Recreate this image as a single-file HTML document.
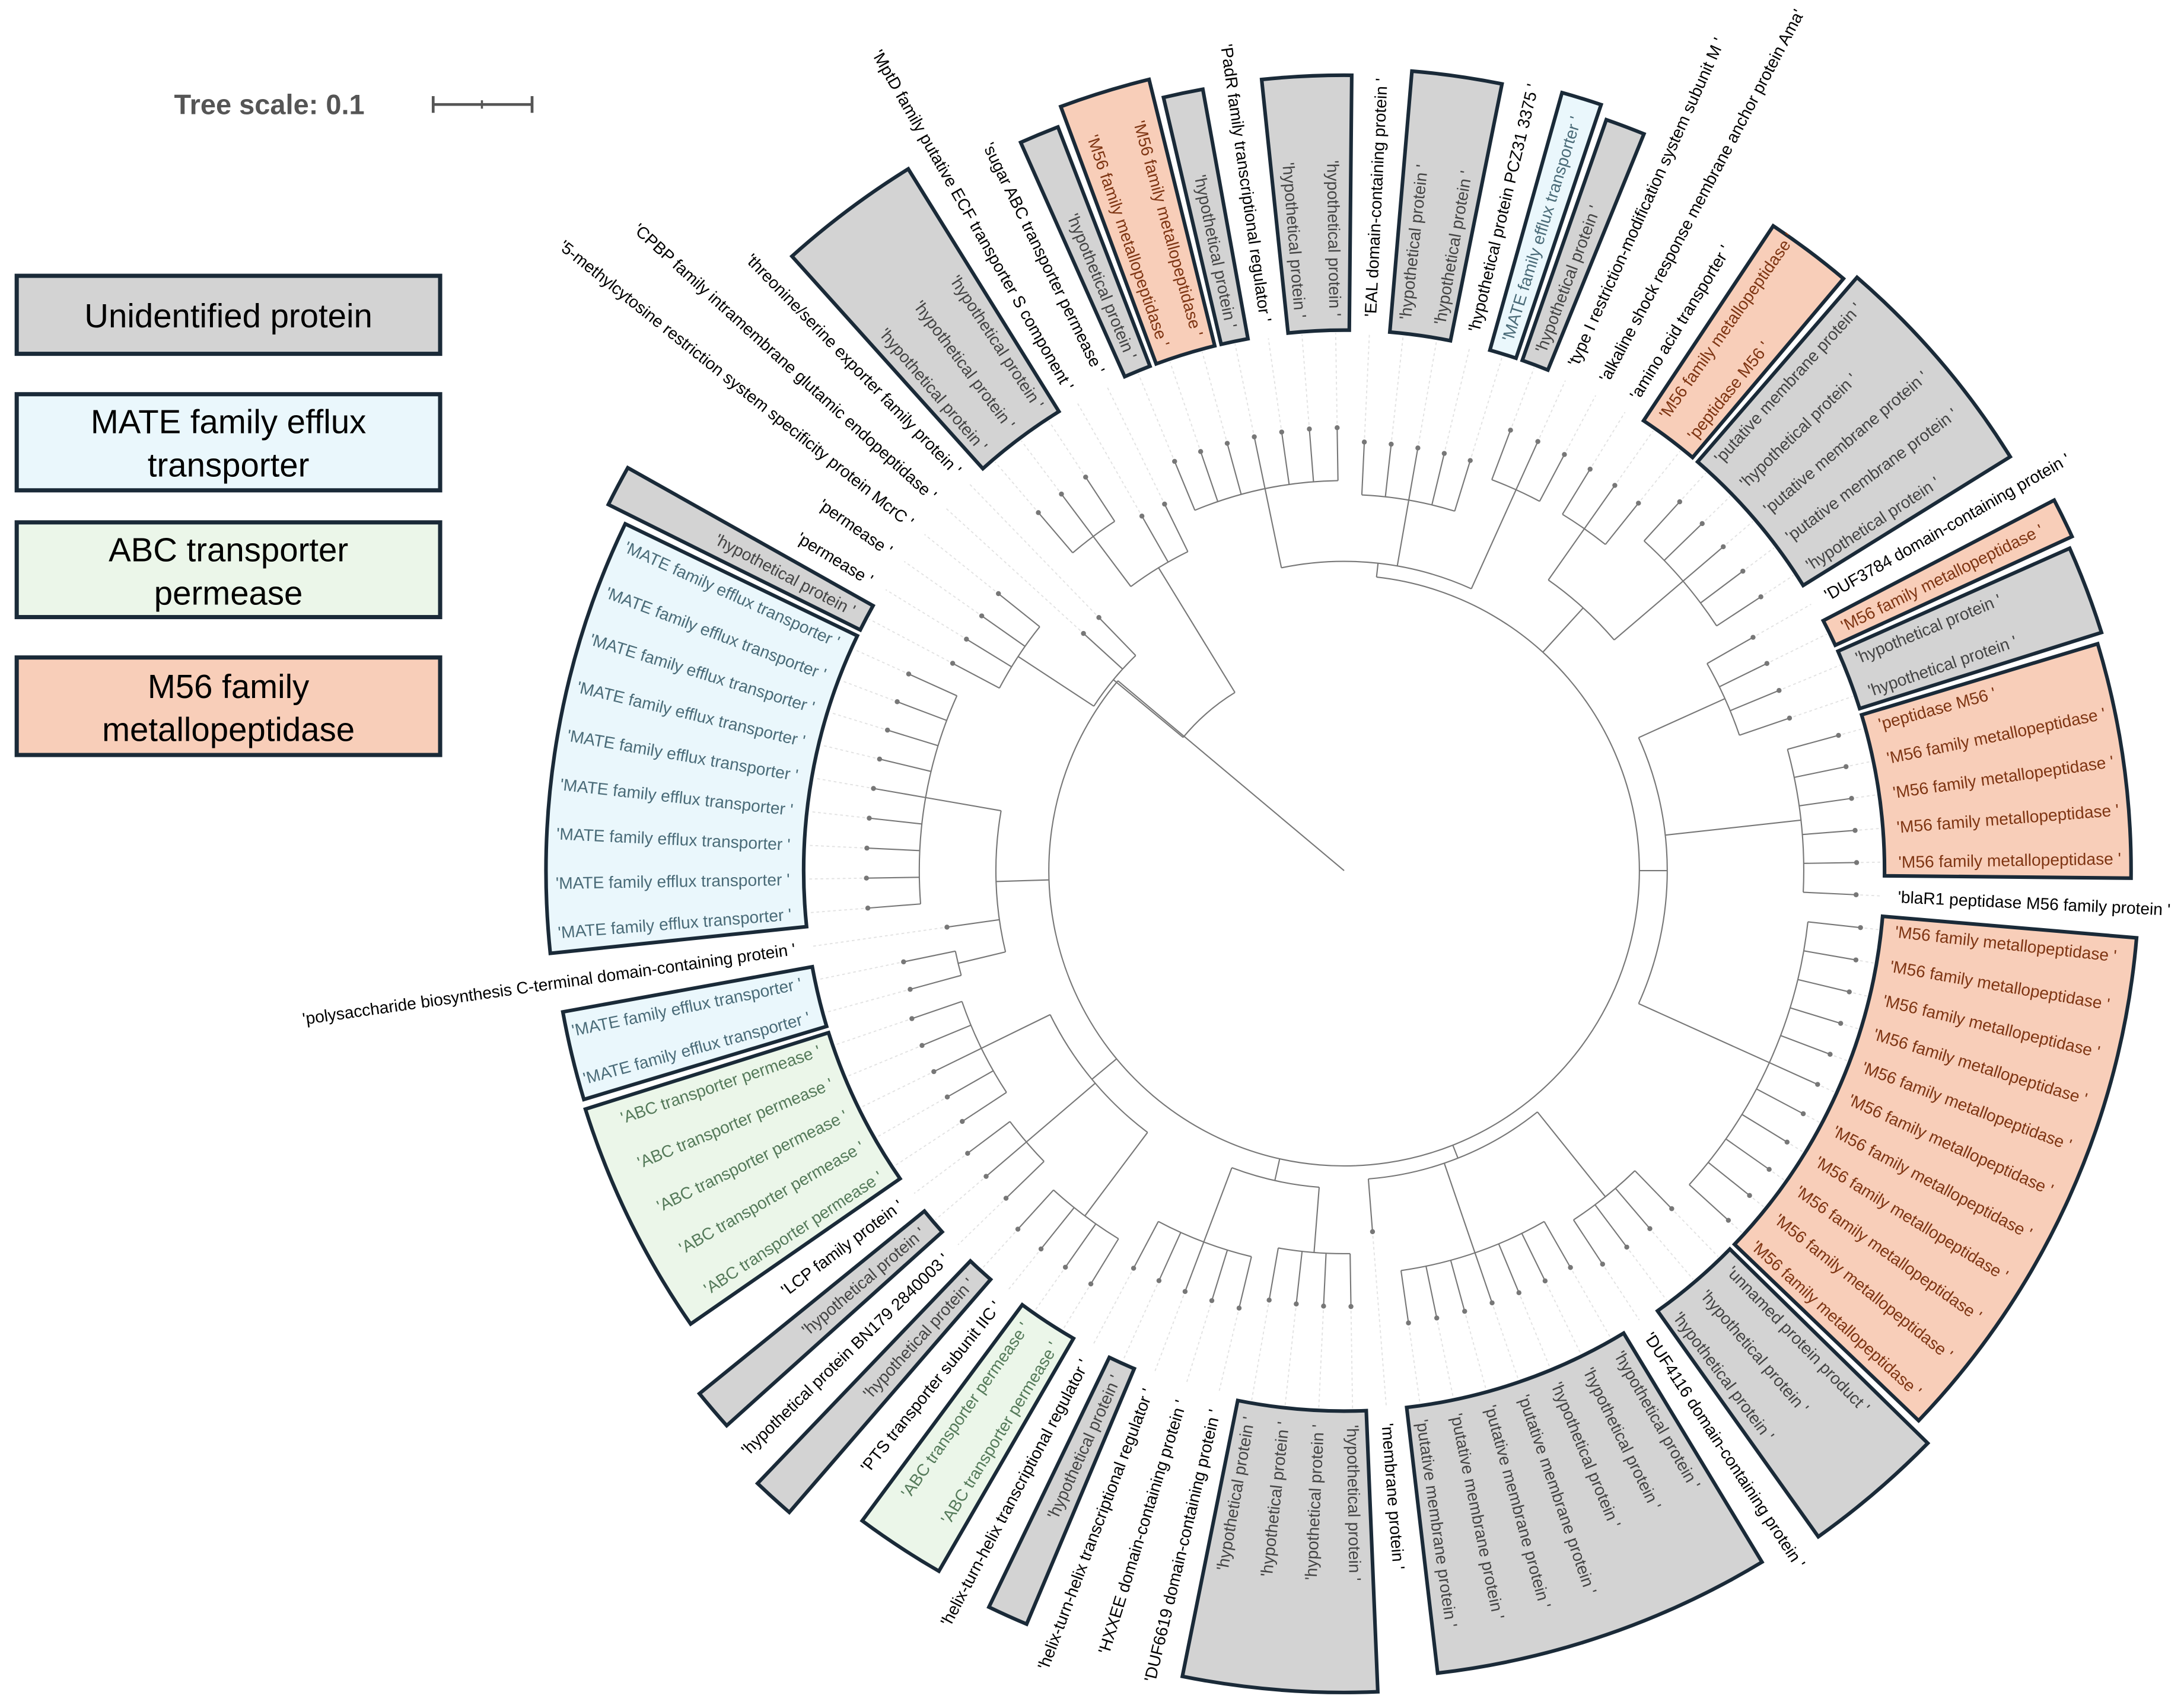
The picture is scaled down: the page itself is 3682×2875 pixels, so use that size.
<!DOCTYPE html>
<html><head><meta charset="utf-8">
<style>
html,body{margin:0;padding:0;background:#fff;}
svg{display:block;}
text{font-family:"Liberation Sans",sans-serif;}
</style></head>
<body>
<svg id="chart" xmlns="http://www.w3.org/2000/svg" width="3682" height="2875" viewBox="0 0 1568 1224" preserveAspectRatio="none">
  <rect x="0" y="0" width="1568" height="1224" fill="#fff"/>
  <g>
    <text x="125" y="82" font-size="20" font-weight="bold" fill="#555">Tree scale: 0.1</text>
    <line x1="311" y1="75" x2="382" y2="75" stroke="#555" stroke-width="2"/>
    <line x1="311" y1="69" x2="311" y2="81" stroke="#555" stroke-width="2"/>
    <line x1="382" y1="69" x2="382" y2="81" stroke="#555" stroke-width="2"/>
    <line x1="346" y1="72" x2="346" y2="78" stroke="#555" stroke-width="1.5"/>
  </g>
  <g>
    <g>
      <rect x="12" y="198" width="304" height="56" fill="#d3d3d3" stroke="#1a2a38" stroke-width="3"/>
      <text x="164" y="235" font-size="24" text-anchor="middle" fill="#000">Unidentified protein</text>
    </g>
    <g>
      <rect x="12" y="283" width="304" height="69" fill="#eaf7fc" stroke="#1a2a38" stroke-width="3"/>
      <text x="164" y="311" font-size="24" text-anchor="middle" fill="#000">MATE family efflux</text>
      <text x="164" y="342" font-size="24" text-anchor="middle" fill="#000">transporter</text>
    </g>
    <g>
      <rect x="12" y="375" width="304" height="68" fill="#ebf6e9" stroke="#1a2a38" stroke-width="3"/>
      <text x="164" y="403" font-size="24" text-anchor="middle" fill="#000">ABC transporter</text>
      <text x="164" y="434" font-size="24" text-anchor="middle" fill="#000">permease</text>
    </g>
    <g>
      <rect x="12" y="472" width="304" height="70" fill="#f8ceb9" stroke="#1a2a38" stroke-width="3"/>
      <text x="164" y="501" font-size="24" text-anchor="middle" fill="#000">M56 family</text>
      <text x="164" y="532" font-size="24" text-anchor="middle" fill="#000">metallopeptidase</text>
    </g>
  </g>
  <g id="boxes"></g>
  <g id="leaders"></g>
  <g id="branches"></g>
  <g id="labels"></g>
</svg>
<script>
const H = "hypothetical protein ";
const M = "M56 family metallopeptidase ";
const MT = "MATE family efflux transporter ";
const AB = "ABC transporter permease ";
const PM = "putative membrane protein ";
const leafLabels = [
 "blaR1 peptidase M56 family protein ", M, M, M, M, "peptidase M56 ", H, H, M,
 "DUF3784 domain-containing protein ", H, PM, PM, H, PM, "peptidase M56 ", M,
 "amino acid transporter ", "alkaline shock response membrane anchor protein Ama",
 "type I restriction-modification system subunit M ", H, MT, "hypothetical protein PCZ31 3375 ",
 H, H, "EAL domain-containing protein ", H, H, "PadR family transcriptional regulator ", H, M, M, H,
 "sugar ABC transporter permease ", "MptD family putative ECF transporter S component ", H, H, H,
 "threonine/serine exporter family protein ", "CPBP family intramembrane glutamic endopeptidase ",
 "5-methylcytosine restriction system specificity protein McrC ", "permease ", "permease ", H,
 MT, MT, MT, MT, MT, MT, MT, MT, MT,
 "polysaccharide biosynthesis C-terminal domain-containing protein ", MT, MT,
 AB, AB, AB, AB, AB, "LCP family protein ", H, "hypothetical protein BN179 2840003 ", H,
 "PTS transporter subunit IIC ", AB, AB, "helix-turn-helix transcriptional regulator ", H,
 "helix-turn-helix transcriptional regulator ", "HXXEE domain-containing protein ",
 "DUF6619 domain-containing protein ", H, H, H, H, "membrane protein ", PM, PM, PM, PM, H, H, H,
 "DUF4116 domain-containing protein ", H, H, "unnamed protein product ",
 M, M, M, M, M, M, M, M, M, M, M
];
const groupStart = [1,6,8,10,15,20,21,23,26,29,30,32,35,43,44,54,56,62,64,66,69,73,78,86,89];
const groupEnd   = [5,7,8,14,16,20,21,24,27,29,31,32,37,43,52,55,60,62,64,67,69,76,84,88,99];
const groupType  = ["m","u","m","u","m","u","t","u","u","u","m","u","u","u","t","t","a","u","u","a","u","u","u","u","m"];
const groupOuter = [565,570,575,563,556,571,580,576,571,570,585,572,593,590,573,570,571,596,609,581,587,590,580,587,571];

const CX = 965, CY = 625, STEP = 3.6, A0 = -2.7, RIN = 388, RLAB = 398, NS = "http://www.w3.org/2000/svg";
const fills = {u:"#d3d3d3", t:"#eaf7fc", a:"#ebf6e9", m:"#f8ceb9"};
const txtCol = {u:"#444", t:"#4a6b78", a:"#557a5a", m:"#7e3513"};
function ang(i){ return A0 + i*STEP; }
function pt(r,a){ const t=a*Math.PI/180; return [CX + r*Math.cos(t), CY - r*Math.sin(t)]; }
const leafType = leafLabels.map(()=>null);
groupStart.forEach((s,g)=>{ for(let i=s;i<=groupEnd[g];i++) leafType[i]=groupType[g]; });

const boxes = document.getElementById("boxes");
groupStart.forEach((s,g)=>{
  const a1 = ang(s)-STEP/2+0.35, a2 = ang(groupEnd[g])+STEP/2-0.35, ro = groupOuter[g];
  const o1=pt(ro,a1), o2=pt(ro,a2), i2=pt(RIN,a2), i1=pt(RIN,a1);
  const large = (a2-a1)>180?1:0;
  const p = document.createElementNS(NS,"path");
  p.setAttribute("d",`M${o1} A${ro} ${ro} 0 ${large} 0 ${o2} L${i2} A${RIN} ${RIN} 0 ${large} 1 ${i1} Z`);
  p.setAttribute("fill",fills[groupType[g]]);
  p.setAttribute("stroke","#1a2a38");
  p.setAttribute("stroke-width","2.6");
  
  
  boxes.appendChild(p);
});

const labels = document.getElementById("labels");
leafLabels.forEach((lab,i)=>{
  let a = ((ang(i)%360)+360)%360;
  const [x,y] = pt(RLAB,a);
  const t = document.createElementNS(NS,"text");
  t.setAttribute("x",x); t.setAttribute("y",y);
  t.setAttribute("font-size","12");
  t.setAttribute("dominant-baseline","central");
  const right = (a<90 || a>270);
  t.setAttribute("text-anchor", right ? "start" : "end");
  t.setAttribute("transform", `rotate(${right ? -a : 180-a} ${x} ${y})`);
  t.setAttribute("fill", leafType[i] ? txtCol[leafType[i]] : "#000");
  t.textContent = "'" + lab + "'";
  
  
  labels.appendChild(t);
});

function N(r,kids,a){ return {r:r,kids:kids,fixA:a}; }
function R(a,b){ const o=[]; for(let i=a;i<=b;i++) o.push(i); return o; }
const tree = N(0,[
  N(150,[
    N(255,[33,34,N(300,[35,36,37])]),
    N(215,[38,39,N(280,[40,41,42,43])]),
    N(212,[
      N(250,[ N(305,R(44,52)), 53, N(285,[54,55]) ]),
      N(235,[ N(290,R(56,60)), N(300,[61,62,63]), N(310,R(64,67)) ]),
      N(228,[ N(285,R(68,72)), N(275,R(73,76)) ]),
      N(222,[ 77, N(290,R(78,84)), N(300,[85,86,87,88]) ]),
      N(232,[ N(335,R(89,99)), N(330,R(100,105)), N(300,R(106,109)) ]),
      N(255,[ N(320,R(110,114)), N(300,R(115,117)) ]),
      N(222,[ N(300,R(118,120)), N(270,R(121,125)), N(280,R(126,132)) ])
    ], 140)
  ], 140)
]);
const tipExtra = 38;
const br = document.getElementById("branches");
const ld = document.getElementById("leaders");
function line(g,p1,p2,col,w,dash,name){
  const l=document.createElementNS(NS,"line");
  l.setAttribute("x1",p1[0]); l.setAttribute("y1",p1[1]);
  l.setAttribute("x2",p2[0]); l.setAttribute("y2",p2[1]);
  l.setAttribute("stroke",col); l.setAttribute("stroke-width",w);
  if(dash) l.setAttribute("stroke-dasharray",dash);
  
  
  g.appendChild(l);
}
function nodeAng(n){
  if(typeof n==="number") return ang(n);
  if(n.fixA!==undefined) return n.fixA;
  const a=n.kids.map(nodeAng); return (a[0]+a[a.length-1])/2;
}
function spanAngs(n){
  const a=n.kids.map(k=> typeof k==="number" ? ang(k) : nodeAng(k));
  return [Math.min(...a), Math.max(...a)];
}
function draw(n){
  const kidAngs = n.kids.map(nodeAng);
  if(n.r>0){
    let [a1,a2]=spanAngs(n);
    if(n.fixA!==undefined){ a1=Math.min(a1,n.fixA); a2=Math.max(a2,n.fixA); }
    const p1=pt(n.r,a1), p2=pt(n.r,a2);
    const arc=document.createElementNS(NS,"path");
    arc.setAttribute("d",`M${p1} A${n.r} ${n.r} 0 ${(a2-a1)>180?1:0} 0 ${p2}`);
    arc.setAttribute("fill","none"); arc.setAttribute("stroke","#777"); arc.setAttribute("stroke-width","0.9");
    
    
    br.appendChild(arc);
  }
  n.kids.forEach((k,j)=>{
    const a=kidAngs[j];
    if(typeof k==="number"){
      const tr = n.r + tipExtra;
      line(br, pt(n.r,a), pt(tr,a), "#777", 0.9, null, "terminal-branch");
      line(ld, pt(tr+3,a), pt(RIN-2,a), "#e2e2e2", 0.8, "2 2", "leader-line");
      const c=document.createElementNS(NS,"circle");
      const [x,y]=pt(tr,a);
      c.setAttribute("cx",x); c.setAttribute("cy",y); c.setAttribute("r","1.8");
      c.setAttribute("fill","#777");
      
      
      br.appendChild(c);
    } else {
      line(br, pt(n.r,a), pt(k.r,a), "#777", 0.9, null, "internal-branch");
      draw(k);
    }
  });
}
draw(tree);
</script>
</body></html>
